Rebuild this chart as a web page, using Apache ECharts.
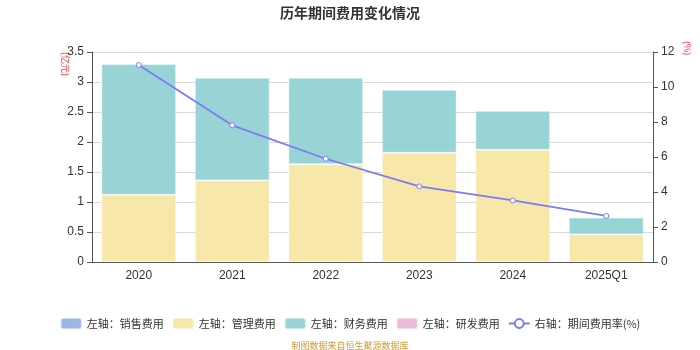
<!DOCTYPE html>
<html>
<head>
<meta charset="utf-8">
<script src="https://cdn.jsdelivr.net/npm/echarts@6/dist/echarts.min.js"></script>
<style>
  html, body { margin: 0; padding: 0; background: #fff; }
  #chart { width: 700px; height: 350px; }
</style>
</head>
<body>
<div id="chart"></div>
<script>
// 历年期间费用（亿元）与期间费用率（%）
const categories = ['2020', '2021', '2022', '2023', '2024', '2025Q1'];
const salesCost = [null, null, null, null, null, null];
const adminCost = [1.12, 1.36, 1.63, 1.82, 1.87, 0.46];
const financeCost = [2.18, 1.71, 1.44, 1.05, 0.65, 0.28];
const rdCost = [null, null, null, null, null, null];
const expenseRate = [11.26, 7.81, 5.90, 4.32, 3.52, 2.63];

const chart = echarts.init(document.getElementById('chart'));

const barBorder = { borderColor: 'rgba(255,255,255,0.45)', borderWidth: 1 };

chart.setOption({
  animation: false,
  title: {
    text: '历年期间费用变化情况',
    left: 'center',
    top: 1,
    textStyle: { fontSize: 14, fontWeight: 'bold', color: '#333', fontFamily: 'Noto Sans CJK SC' }
  },
  grid: { left: 92, right: 47, top: 52, bottom: 88 },
  legend: {
    bottom: 15,
    left: 'center',
    itemWidth: 21,
    itemHeight: 11,
    itemGap: 8,
    textStyle: { fontSize: 11, color: '#333', fontFamily: 'Noto Sans CJK SC' },
    data: ['左轴：销售费用', '左轴：管理费用', '左轴：财务费用', '左轴：研发费用', '右轴：期间费用率(%)']
  },
  graphic: [
    {
      type: 'text', x: 70, y: 52, rotation: -Math.PI / 2,
      style: { text: '(亿元)', fill: '#ff3333', fontSize: 9, fontFamily: 'Noto Sans CJK SC' }
    },
    {
      type: 'text', x: 692, y: 41, rotation: -Math.PI / 2,
      style: { text: '(%)', fill: '#ff3333', fontSize: 9, fontFamily: 'Noto Sans CJK SC' }
    },
    {
      type: 'text', left: 'center', bottom: 0,
      style: { text: '制图数据来自恒生聚源数据库', fill: '#d09a3a', fontSize: 9, fontFamily: 'Noto Sans CJK SC' }
    }
  ],
  xAxis: {
    type: 'category',
    data: categories,
    axisLine: { lineStyle: { color: '#555' } },
    axisTick: { lineStyle: { color: '#555' } },
    axisLabel: { color: '#333', fontSize: 12, margin: 8 }
  },
  yAxis: [
    {
      type: 'value', min: 0, max: 3.5, interval: 0.5,
      axisLine: { show: true, lineStyle: { color: '#555' } },
      axisTick: { show: true, lineStyle: { color: '#555' } },
      axisLabel: { color: '#333', fontSize: 12 },
      splitLine: { lineStyle: { color: '#d9d9d9' } }
    },
    {
      type: 'value', min: 0, max: 12, interval: 2,
      axisLine: { show: true, lineStyle: { color: '#555' } },
      axisTick: { show: true, lineStyle: { color: '#555' } },
      axisLabel: { color: '#333', fontSize: 12 },
      splitLine: { show: false }
    }
  ],
  series: [
    { name: '左轴：销售费用', type: 'bar', stack: 'fee', barWidth: '80%', data: salesCost,
      itemStyle: Object.assign({ color: '#9bb7e3' }, barBorder) },
    { name: '左轴：管理费用', type: 'bar', stack: 'fee', barWidth: '80%', data: adminCost,
      itemStyle: Object.assign({ color: '#f7e7a8' }, barBorder) },
    { name: '左轴：财务费用', type: 'bar', stack: 'fee', barWidth: '80%', data: financeCost,
      itemStyle: Object.assign({ color: '#98d4d5' }, barBorder) },
    { name: '左轴：研发费用', type: 'bar', stack: 'fee', barWidth: '80%', data: rdCost,
      itemStyle: Object.assign({ color: '#e9bcdb' }, barBorder) },
    { name: '右轴：期间费用率(%)', type: 'line', yAxisIndex: 1, data: expenseRate,
      symbol: 'circle', symbolSize: 5,
      lineStyle: { color: '#7b7bf5', width: 1.8 },
      itemStyle: { color: '#fff', borderColor: '#7b7bf5', borderWidth: 1 } }
  ]
});
</script>
</body>
</html>
